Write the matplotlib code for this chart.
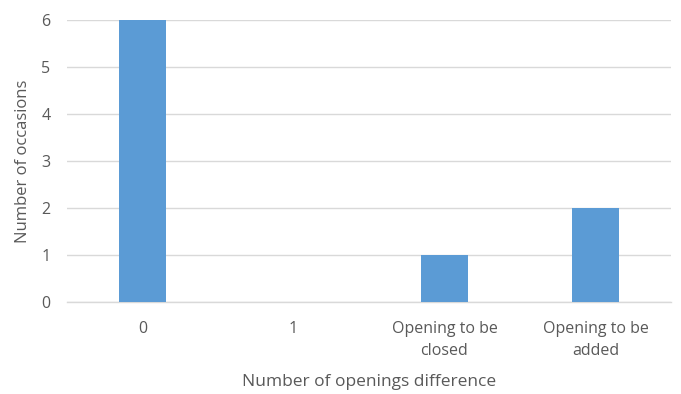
import matplotlib
matplotlib.use('Agg')
import matplotlib.pyplot as plt

categories = ['0', '1', 'Opening to be\nclosed', 'Opening to be\nadded']
occasions = [6, 0, 1, 2]

plt.rcParams['font.family'] = ['Open Sans', 'DejaVu Sans']
text_col = '#595959'

fig = plt.figure(figsize=(6.81, 3.94), dpi=100)
ax = fig.add_axes([0.0984, 0.234, 0.8869, 0.715])

x = range(len(categories))
ax.bar(x, occasions, width=0.31, color='#5B9BD5', zorder=3)

ax.set_xlim(-0.5, len(categories) - 0.5)
ax.set_ylim(0, 6)
ax.set_yticks(range(0, 7))
ax.set_xticks(list(x))
ax.set_xticklabels(categories, linespacing=1.45)
ax.grid(axis='y', color='#D9D9D9', linewidth=1, zorder=0)
ax.set_axisbelow(True)
for s in ax.spines.values():
    s.set_visible(False)
ax.axhline(0, color='#D9D9D9', linewidth=1, zorder=1, clip_on=False)
ax.tick_params(length=0, colors=text_col, labelsize=11.5)
ax.tick_params(axis='y', pad=12)
ax.tick_params(axis='x', pad=14)

ax.set_ylabel('Number of occasions', color=text_col, fontsize=12, labelpad=7)
ax.set_xlabel('Number of openings difference', color=text_col, fontsize=12.5, labelpad=11)

fig.savefig('out.png', dpi=100)
